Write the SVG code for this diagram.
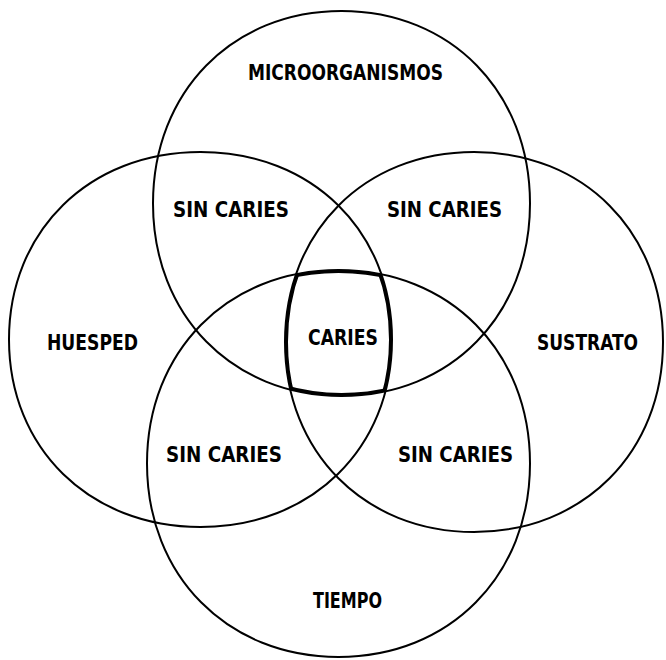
<svg xmlns="http://www.w3.org/2000/svg" width="666" height="660" viewBox="0 0 666 660">
<style>
.c{fill:none;stroke:#000;stroke-width:2}
.k{fill:none;stroke:#000;stroke-width:6}
text{font-family:"DejaVu Sans Condensed","DejaVu Sans","Liberation Sans",sans-serif;font-weight:bold;font-size:21px;fill:#000}
</style>
<defs>
<path id="pTop" d="M341.5,11 C450.8,11 530,92 530,203.5 C530,315 450.8,396 341.5,396 C232.2,396 153,315 153,203.5 C153,92 232.2,11 341.5,11Z"/>
<path id="pLeft" d="M200.5,152 C311.6,152 392,230.8 392,339.5 C392,448.3 311.6,527 200.5,527 C89.4,527 9,448.3 9,339.5 C9,230.8 89.4,152 200.5,152Z"/>
<path id="pRight" d="M474,152 C583.6,152 663,231.8 663,342 C663,452.2 583.6,532 474,532 C364.4,532 285,452.2 285,342 C285,231.8 364.4,152 474,152Z"/>
<path id="pBottom" d="M338.5,270 C449.6,270 530,351.3 530,463.5 C530,575.7 449.6,657 338.5,657 C227.4,657 147,575.7 147,463.5 C147,351.3 227.4,270 338.5,270Z"/>
<clipPath id="c1"><use href="#pTop"/></clipPath>
<clipPath id="c2" clip-path="url(#c1)"><use href="#pLeft"/></clipPath>
<clipPath id="c3" clip-path="url(#c2)"><use href="#pRight"/></clipPath>
<clipPath id="core" clip-path="url(#c3)"><use href="#pBottom"/></clipPath>
</defs>
<rect width="666" height="660" fill="#fff"/>
<g id="microorganismos">
<use href="#pTop" class="c"/>
<text x="248" y="80" textLength="195" lengthAdjust="spacingAndGlyphs">MICROORGANISMOS</text>
</g>
<g id="huesped">
<use href="#pLeft" class="c"/>
<text x="47" y="350" textLength="91" lengthAdjust="spacingAndGlyphs">HUESPED</text>
</g>
<g id="sustrato">
<use href="#pRight" class="c"/>
<text x="537" y="350" textLength="101" lengthAdjust="spacingAndGlyphs">SUSTRATO</text>
</g>
<g id="tiempo">
<use href="#pBottom" class="c"/>
<text x="313" y="608" textLength="69" lengthAdjust="spacingAndGlyphs">TIEMPO</text>
</g>
<g id="caries">
<g clip-path="url(#core)">
<use href="#pTop" class="k"/>
<use href="#pLeft" class="k"/>
<use href="#pRight" class="k"/>
<use href="#pBottom" class="k"/>
</g>
<text x="308" y="345" textLength="70" lengthAdjust="spacingAndGlyphs">CARIES</text>
</g>
<g id="sin-caries-tl"><text x="173" y="217" textLength="116" lengthAdjust="spacingAndGlyphs">SIN CARIES</text></g>
<g id="sin-caries-tr"><text x="387" y="217" textLength="115" lengthAdjust="spacingAndGlyphs">SIN CARIES</text></g>
<g id="sin-caries-bl"><text x="166" y="462" textLength="116" lengthAdjust="spacingAndGlyphs">SIN CARIES</text></g>
<g id="sin-caries-br"><text x="398" y="462" textLength="115" lengthAdjust="spacingAndGlyphs">SIN CARIES</text></g>
</svg>
